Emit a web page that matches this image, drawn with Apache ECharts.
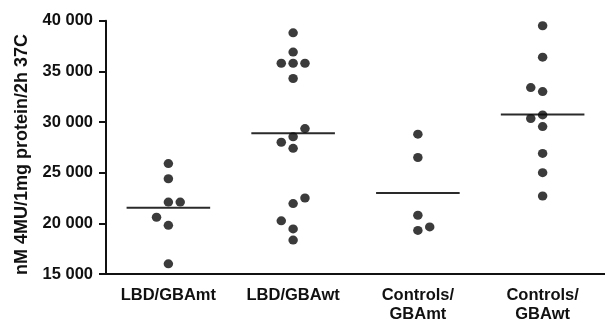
<!DOCTYPE html>
<html>
<head>
<meta charset="utf-8">
<script src="https://cdn.jsdelivr.net/npm/echarts@6/dist/echarts.min.js"></script>
<style>html,body{margin:0;padding:0;background:#fff}#c{width:605px;height:324px}</style>
</head>
<body>
<div id="c"></div>
<script>
// Categories and tick labels
var categories = ['LBD/GBAmt', 'LBD/GBAwt', 'Controls/\nGBAmt', 'Controls/\nGBAwt'];
var yTicks = [15000, 20000, 25000, 30000, 35000, 40000];
var yTitle = 'nM 4MU/1mg protein/2h 37C';

// Values, per group
var lbdMt = [25900, 24400, 22100, 22100, 20600, 19800, 16000];
var lbdMtSlot = [0, 0, 0, 1, -1, 0, 0];
var lbdWt = [38800, 36900, 35800, 35800, 35800, 34300, 29350, 28550, 28000, 27400, 22500, 21950, 20250, 19450, 18350];
var lbdWtSlot = [0, 0, -1, 0, 1, 0, 1, 0, -1, 0, 1, 0, -1, 0, 0];
var ctlMt = [28800, 26500, 20800, 19650, 19300];
var ctlMtSlot = [0, 0, 0, 1, 0];
var ctlWt = [39500, 36400, 33400, 33000, 30700, 30350, 29550, 26900, 25000, 22700];
var ctlWtSlot = [0, 0, -1, 0, 0, -1, 0, 0, 0, 0];
var means = [21550, 28900, 23000, 30750];

var groups = [[lbdMt, lbdMtSlot], [lbdWt, lbdWtSlot], [ctlMt, ctlMtSlot], [ctlWt, ctlWtSlot]];
var SLOT = 0.095;      // horizontal spread of side-by-side dots (category units)
var HALF = 0.335;      // half-length of mean line (category units)

var pts = [];
groups.forEach(function (g, i) {
  g[0].forEach(function (v, k) { pts.push([i + g[1][k] * SLOT, v]); });
});

var series = [{
  type: 'scatter', xAxisIndex: 1, yAxisIndex: 0,
  data: pts, symbol: 'circle', symbolSize: [9.5, 9],
  itemStyle: { color: '#0a0a0a' }, z: 3
}];
means.forEach(function (m, i) {
  series.push({
    type: 'line', xAxisIndex: 1, yAxisIndex: 0,
    data: [[i - HALF, m], [i + HALF, m]],
    symbol: 'none', lineStyle: { color: '#2a2a2a', width: 2 }, z: 2
  });
});

var fam = '"Liberation Sans", Arial, sans-serif';
var chart = echarts.init(document.getElementById('c'), null, { renderer: 'canvas' });
chart.setOption({
  animation: false,
  grid: { left: 106, right: -4, top: 20.7, bottom: 49, containLabel: false },
  xAxis: [{
    type: 'category', data: categories, boundaryGap: true,
    axisLine: { onZero: false, lineStyle: { color: '#111', width: 2 } },
    axisTick: { alignWithLabel: true, length: 5, lineStyle: { color: '#111', width: 2 } },
    axisLabel: { color: '#111', fontFamily: fam, fontWeight: 'bold', fontSize: 16.5, lineHeight: 19, margin: 12, interval: 0 },
    splitLine: { show: false }
  }, {
    type: 'value', min: -0.5, max: 3.5, show: false
  }],
  yAxis: [{
    type: 'value', min: yTicks[0], max: yTicks[yTicks.length - 1], interval: 5000,
    axisLine: { show: true, onZero: false, lineStyle: { color: '#111', width: 2 } },
    axisTick: { show: true, length: 7, lineStyle: { color: '#111', width: 2 } },
    axisLabel: {
      color: '#111', fontFamily: fam, fontWeight: 'bold', fontSize: 16.5, margin: 13,
      formatter: function (v) { return String(v).replace(/\B(?=(\d{3})+(?!\d))/g, ' '); }
    },
    splitLine: { show: false }
  }],
  graphic: [{
    type: 'text', x: 22, y: 154.5, rotation: Math.PI / 2,
    style: { text: yTitle, fill: '#111', font: 'bold 18px ' + fam, textAlign: 'center', textVerticalAlign: 'middle' }
  }],
  series: series
});
</script>
</body>
</html>
